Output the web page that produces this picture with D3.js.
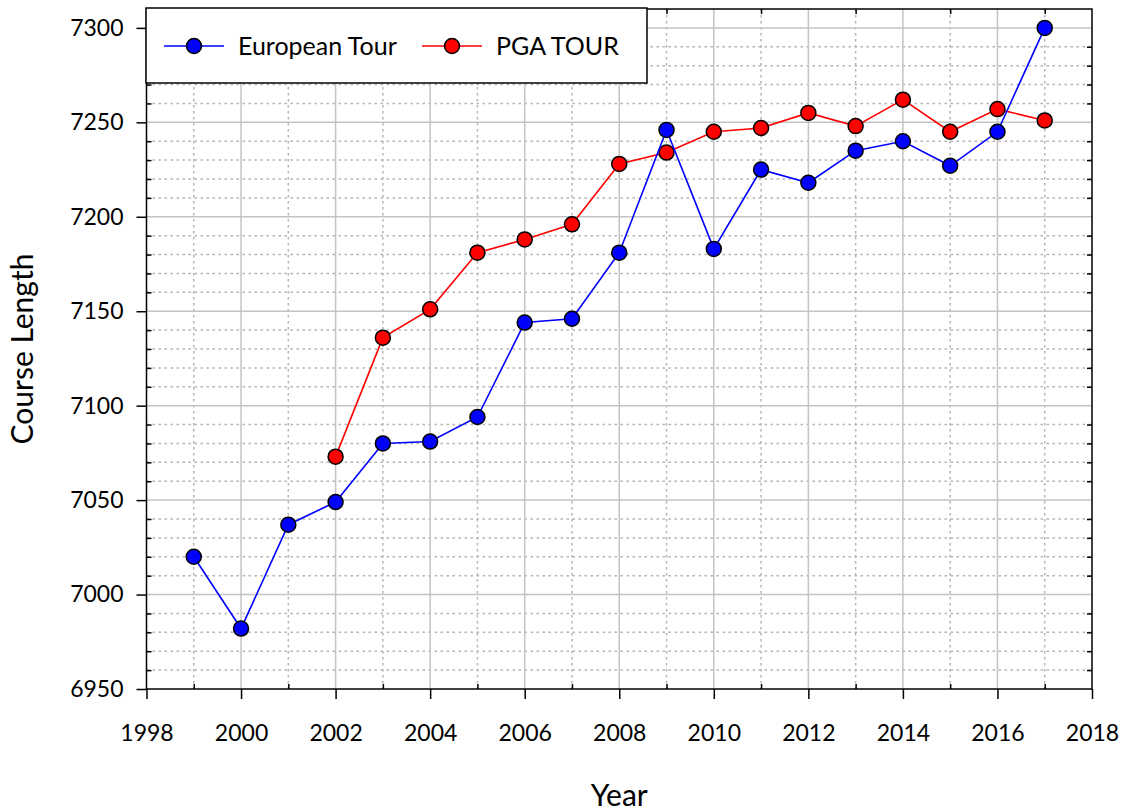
<!DOCTYPE html>
<html>
<head>
<meta charset="utf-8">
<script src="https://cdn.jsdelivr.net/npm/d3@7"></script>
<style>
  body { margin: 0; background: #fff; }
  text { font-family: Lato, "Open Sans", sans-serif; fill: #000; }
  .grid-major line { stroke: #c4c4c4; stroke-width: 1.5; }
  .grid-minor line { stroke: #b4b4b4; stroke-width: 1.5; stroke-dasharray: 2.5,3.5; }
  .axis path, .axis line { stroke: #000; stroke-width: 1.5; }
</style>
</head>
<body>
<div id="chart"></div>
<script>
(function () {

// data
var euroYears = [1999, 2000, 2001, 2002, 2003, 2004, 2005, 2006, 2007, 2008, 2009, 2010, 2011, 2012, 2013, 2014, 2015, 2016, 2017];
var euroLength = [7020, 6982, 7037, 7049, 7080, 7081, 7094, 7144, 7146, 7181, 7246, 7183, 7225, 7218, 7235, 7240, 7227, 7245, 7300];

var pgaYears = [2002, 2003, 2004, 2005, 2006, 2007, 2008, 2009, 2010, 2011, 2012, 2013, 2014, 2015, 2016, 2017];
var pgaLength = [7073, 7136, 7151, 7181, 7188, 7196, 7228, 7234, 7245, 7247, 7255, 7248, 7262, 7245, 7257, 7251];

var xTicks = [1998, 2000, 2002, 2004, 2006, 2008, 2010, 2012, 2014, 2016, 2018];
var yTicks = [6950, 7000, 7050, 7100, 7150, 7200, 7250, 7300];

var seriesNames = ["European Tour", "PGA TOUR"];
var seriesColors = ["#0000ff", "#ff0000"];

var W = 1125, H = 812;
var margin = {top: 9, right: 33, bottom: 123, left: 146.5},
    width = W - margin.left - margin.right,
    height = H - margin.top - margin.bottom;

var x = d3.scaleLinear().domain([1998, 2018]).range([0, width]);
var y = d3.scaleLinear().domain([6950, 7310]).range([height, 0]);

var xMinor = d3.range(1999, 2018, 2);
var yMinor = d3.range(6950, 7310, 10).filter(function (v) { return v % 50 !== 0; });

var svg = d3.select("#chart").append("svg")
    .attr("width", W)
    .attr("height", H);

var chart = svg.append("g")
    .attr("transform", "translate(" + margin.left + "," + margin.top + ")");

// grid
var gMinor = chart.append("g").attr("class", "grid-minor");
gMinor.selectAll(".vx").data(xMinor).enter().append("line")
    .attr("x1", x).attr("x2", x).attr("y1", 0).attr("y2", height);
gMinor.selectAll(".hy").data(yMinor).enter().append("line")
    .attr("y1", y).attr("y2", y).attr("x1", 0).attr("x2", width);

var gMajor = chart.append("g").attr("class", "grid-major");
gMajor.selectAll(".vx").data(xTicks.slice(1, -1)).enter().append("line")
    .attr("x1", x).attr("x2", x).attr("y1", 0).attr("y2", height);
gMajor.selectAll(".hy").data(yTicks.slice(1)).enter().append("line")
    .attr("y1", y).attr("y2", y).attr("x1", 0).attr("x2", width);

// frame
chart.append("rect")
    .attr("width", width).attr("height", height)
    .attr("fill", "none").attr("stroke", "#000").attr("stroke-width", 1.5);

// axes
var xAxis = d3.axisBottom(x).tickValues(xTicks).tickFormat(d3.format("d"))
    .tickSize(10).tickSizeOuter(0).tickPadding(26);
var yAxis = d3.axisLeft(y).tickValues(yTicks).tickFormat(d3.format("d"))
    .tickSize(10).tickSizeOuter(0).tickPadding(13);

chart.append("g").attr("class", "axis xaxis")
    .attr("transform", "translate(0," + height + ")")
    .call(xAxis);
chart.append("g").attr("class", "axis yaxis")
    .call(yAxis);

// minor ticks pointing inward
chart.append("g").attr("class", "axis")
    .attr("transform", "translate(0," + height + ")")
    .call(d3.axisBottom(x).tickValues(xMinor).tickFormat("").tickSize(-5).tickSizeOuter(0));
chart.append("g").attr("class", "axis")
    .call(d3.axisTop(x).tickValues(xMinor).tickFormat("").tickSize(-5).tickSizeOuter(0));
chart.append("g").attr("class", "axis")
    .call(d3.axisLeft(y).tickValues(yMinor).tickFormat("").tickSize(-5).tickSizeOuter(0));
chart.append("g").attr("class", "axis")
    .attr("transform", "translate(" + width + ",0)")
    .call(d3.axisRight(y).tickValues(yMinor).tickFormat("").tickSize(-5).tickSizeOuter(0));

chart.selectAll(".axis .domain").remove();
chart.selectAll(".axis text").style("font-size", "23px");

// axis titles
svg.append("text")
    .attr("x", margin.left + width / 2)
    .attr("y", 806)
    .attr("text-anchor", "middle")
    .style("font-size", "30px")
    .text("Year");

svg.append("text")
    .attr("transform", "translate(33," + (margin.top + height / 2) + ") rotate(-90)")
    .attr("text-anchor", "middle")
    .style("font-size", "30px")
    .text("Course Length");

// series
var line = d3.line()
    .x(function (d) { return x(d.year); })
    .y(function (d) { return y(d.value); });

function toPoints(years, values) {
    return years.map(function (yr, i) { return {year: yr, value: values[i]}; });
}

var series = [
    {name: seriesNames[1], color: seriesColors[1], points: toPoints(pgaYears, pgaLength)},
    {name: seriesNames[0], color: seriesColors[0], points: toPoints(euroYears, euroLength)}
];

series.forEach(function (s) {
    chart.append("path")
        .attr("d", line(s.points))
        .attr("fill", "none")
        .attr("stroke", s.color)
        .attr("stroke-width", 1.6);
    chart.selectAll(null).data(s.points).enter().append("circle")
        .attr("cx", function (d) { return x(d.year); })
        .attr("cy", function (d) { return y(d.value); })
        .attr("r", 7.5)
        .attr("fill", s.color)
        .attr("stroke", "#000")
        .attr("stroke-width", 1.5);
});

// legend
var legend = svg.append("g").attr("transform", "translate(146,8)");
legend.append("rect")
    .attr("width", 501).attr("height", 75)
    .attr("fill", "#fff").attr("stroke", "#000").attr("stroke-width", 1.5);

var legendX = [18, 276];
seriesNames.forEach(function (name, i) {
    var g = legend.append("g").attr("transform", "translate(" + legendX[i] + ",38)");
    g.append("line").attr("x1", 0).attr("x2", 60)
        .attr("stroke", seriesColors[i]).attr("stroke-width", 1.6);
    g.append("circle").attr("cx", 30).attr("r", 7.5)
        .attr("fill", seriesColors[i]).attr("stroke", "#000").attr("stroke-width", 1.5);
    g.append("text").attr("x", 74).attr("dy", "0.35em")
        .style("font-size", "25px")
        .text(name);
});

}).call(this);
</script>
</body>
</html>
